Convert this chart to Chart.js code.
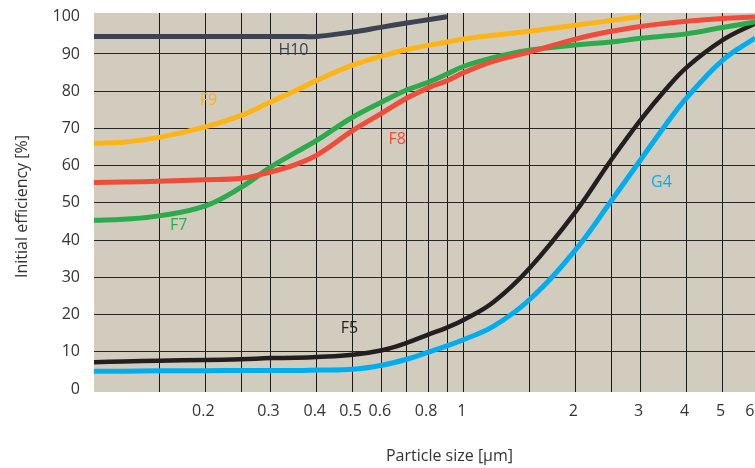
<!DOCTYPE html>
<html>
<head>
<meta charset="utf-8">
<script src="https://cdn.jsdelivr.net/npm/chart.js@4/dist/chart.umd.min.js"></script>
<style>
  html, body { margin: 0; padding: 0; background: #fff; }
</style>
</head>
<body>
<canvas id="effChart" width="755" height="468"></canvas>
<script>
// particle sizes (µm) shared by all curves
const particleSizes = [0.1, 0.12, 0.15, 0.2, 0.25, 0.3, 0.35, 0.4, 0.5, 0.6, 0.7, 0.8, 0.9, 1, 1.2, 1.5, 2, 2.5, 3, 3.5, 4, 5, 6.12];

// initial efficiency (%) per filter class
const h10 = [94.7, 94.7, 94.7, 94.7, 94.7, 94.7, 94.7, 94.7, 95.9, 97.2, 98.3, 99.2, 100, null, null, null, null, null, null, null, null, null, null];
const f9  = [66, 66.3, 67.6, 70.4, 73.5, 77.1, 80.1, 82.9, 87, 89.4, 91.2, 92.3, 93.2, 94, 95, 96.1, 97.7, 99, 100, null, null, null, null];
const f8  = [55.5, 55.6, 55.8, 56.2, 56.6, 58.3, 60.3, 62.8, 69.4, 74.1, 78.1, 80.9, 82.8, 85, 88, 90.5, 94, 96.1, 97.4, 98.2, 98.8, 99.5, 99.9];
const f7  = [45.3, 45.6, 46.5, 49.2, 54.2, 59.6, 63.5, 66.8, 73, 77.1, 80.3, 82.4, 84.6, 86.7, 89, 91, 92.4, 93.2, 94.2, 94.8, 95.4, 97.1, 98.6];
const f5  = [7.2, 7.4, 7.6, 7.8, 8, 8.3, 8.4, 8.6, 9.2, 10.4, 12.4, 14.6, 16.5, 18.6, 23.3, 32.3, 47.5, 61.5, 72.2, 80.3, 86.4, 93.7, 98.2];
const g4  = [4.8, 4.8, 4.9, 4.9, 5, 5, 5, 5.1, 5.3, 6.4, 8, 9.9, 11.6, 13.3, 16.8, 23.9, 37.3, 50.5, 61.5, 70.8, 78.2, 88.3, 94.3];

const seriesNames = ["H10", "F9", "F8", "F7", "F5", "G4"];
// where each curve name sits, in data units [size, %]
const nameAnchors = [[0.346, 91], [0.204, 77.4], [0.66, 67.1], [0.1695, 44], [0.49, 16.4], [3.42, 55.6]];

const xGridTicks = [0.15, 0.2, 0.25, 0.3, 0.4, 0.5, 0.6, 0.7, 0.8, 0.9, 1, 1.5, 2, 2.5, 3, 4, 5, 6];
const xTickLabels = [0.2, 0.3, 0.4, 0.5, 0.6, 0.8, 1, 2, 3, 4, 5, 6];
const yTicks = [0, 10, 20, 30, 40, 50, 60, 70, 80, 90, 100];

const colors = ["#3c4353", "#fdb515", "#ef4c3a", "#2bab4c", "#231f20", "#00adee"];
const FONT = '"Open Sans", sans-serif';
const TEXT = "#333333";

function toPoints(vals) {
  return particleSizes.map((s, i) => ({ x: s, y: vals[i] }));
}

const decor = {
  id: "decor",
  beforeDraw(chart) {
    const { ctx, chartArea: a } = chart;
    ctx.save();
    ctx.fillStyle = "#d2ccbf";
    ctx.fillRect(a.left, a.top, a.right - a.left, a.bottom - a.top);
    ctx.restore();
  },
  afterDatasetsDraw(chart) {
    const { ctx, chartArea: a, scales: { x, y } } = chart;
    ctx.save();
    ctx.font = "16px " + FONT;
    ctx.textAlign = "center";
    ctx.textBaseline = "middle";
    seriesNames.forEach((name, i) => {
      ctx.fillStyle = colors[i];
      ctx.fillText(name, x.getPixelForValue(nameAnchors[i][0]), y.getPixelForValue(nameAnchors[i][1]));
    });
    // axis titles
    ctx.fillStyle = TEXT;
    ctx.fillText("Particle size [µm]", (a.left + a.right) / 2 + 25, 456);
    ctx.translate(22, (a.top + a.bottom) / 2 + 4);
    ctx.rotate(-Math.PI / 2);
    ctx.fillText("Initial efficiency [%]", 0, 0);
    ctx.restore();
  }
};

const allSeries = [h10, f9, f8, f7, f5, g4];

new Chart(document.getElementById("effChart"), {
  type: "line",
  data: {
    datasets: allSeries.map((vals, i) => ({
      label: seriesNames[i],
      data: toPoints(vals),
      borderColor: colors[i],
      borderWidth: i === 4 ? 4.5 : 5,
      pointRadius: 0,
      fill: false,
      tension: 0.4,
      spanGaps: false
    }))
  },
  options: {
    responsive: false,
    animation: false,
    layout: { padding: { top: 13, left: 0, right: 0, bottom: 0 } },
    plugins: { legend: { display: false }, tooltip: { enabled: false } },
    scales: {
      x: {
        type: "logarithmic",
        min: 0.1,
        max: 6.12,
        afterBuildTicks: s => { s.ticks = xGridTicks.map(v => ({ value: v })); },
        afterFit: s => { s.height = 76; s.paddingLeft = 0; s.paddingRight = 0; },
        border: { display: false },
        grid: {
          drawTicks: false,
          lineWidth: 1,
          color: c => (c.tick && c.tick.value === 6 ? "rgba(0,0,0,0)" : "#1a1a1a")
        },
        ticks: {
          autoSkip: false,
          maxRotation: 0,
          padding: 10,
          labelOffset: -2,
          color: TEXT,
          font: { family: FONT, size: 16 },
          callback: v => (xTickLabels.includes(v) ? String(v) : "")
        }
      },
      y: {
        type: "linear",
        min: -0.8,
        max: 101,
        afterBuildTicks: s => { s.ticks = yTicks.map(v => ({ value: v })); },
        afterFit: s => { s.width = 94; s.paddingTop = 0; s.paddingBottom = 0; },
        border: { display: false },
        grid: {
          drawTicks: false,
          lineWidth: 1,
          color: c => (c.tick && (c.tick.value === 0 || c.tick.value === 100) ? "rgba(0,0,0,0)" : "#262626")
        },
        ticks: {
          padding: 14,
          color: TEXT,
          font: { family: FONT, size: 16 },
          callback: v => String(v)
        }
      }
    }
  },
  plugins: [decor]
});
</script>
</body>
</html>
